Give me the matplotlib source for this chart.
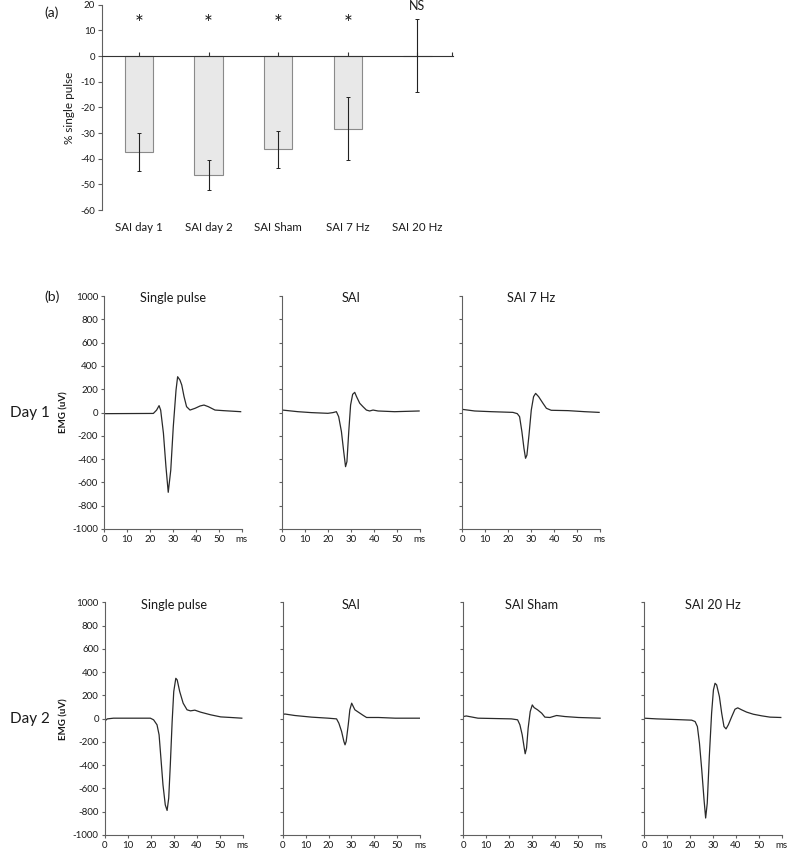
import matplotlib
matplotlib.use("Agg")
import matplotlib.pyplot as plt
import matplotlib.transforms as mtransforms

plt.rcParams['font.family'] = ['Lato', 'DejaVu Sans']
plt.rcParams['axes.unicode_minus'] = False

# ---------------- data: panel (a) ----------------
categories = ["SAI day 1", "SAI day 2", "SAI Sham", "SAI 7 Hz", "SAI 20 Hz"]
pct_means = [-37.4, -46.4, -36.3, -28.3, 0.2]
pct_errs = [7.5, 5.8, 7.2, 12.4, 14.2]
sig_labels = ["*", "*", "*", "*", "NS"]
a_yticks = [20, 10, 0, -10, -20, -30, -40, -50, -60]

# ---------------- data: panel (b) traces (ms, uV) ----------------
d1_single_t = [0, 21.4, 22.8, 23.9, 24.6, 25.8, 26.9, 27.9, 29.0, 30.1, 31.3, 32.0, 33.0,
               33.8, 34.8, 35.9, 37.4, 39.6, 41.8, 43.5, 45.4, 48.3, 51.9, 59.5]
d1_single_v = [-10, -8, 20, 59, 20, -178, -465, -685, -495, -122, 193, 307, 279,
               236, 136, 50, 21, 36, 56, 64, 50, 21, 16, 7]

d1_sai_t = [0, 6.8, 12.7, 19.9, 22.1, 23.6, 24.6, 25.8, 26.8, 27.6, 28.2, 29.0, 29.8, 30.7,
            31.6, 32.4, 33.8, 35.2, 36.7, 38.1, 39.6, 41.8, 49.0, 59.7]
d1_sai_v = [21, 7, -1, -7, -1, 7, -36, -164, -336, -465, -422, -164, 64, 156,
            173, 136, 79, 50, 21, 13, 21, 13, 7, 13]

d1_7hz_t = [0, 5.4, 12.7, 22.1, 24.0, 25.0, 26.0, 26.9, 27.6, 28.2, 29.1, 30.1, 31.1,
            32.0, 33.3, 35.2, 36.7, 38.8, 46.1, 53.4, 59.7]
d1_7hz_v = [27, 13, 7, 1, -10, -36, -164, -307, -393, -365, -193, 21, 136,
            164, 136, 79, 36, 19, 16, 7, 1]

d2_single_t = [0, 1.0, 3.7, 19.8, 21.2, 22.7, 23.6, 24.4, 25.3, 26.3, 27.1, 27.8, 28.5,
               29.3, 30.0, 30.9, 31.5, 32.6, 34.1, 35.8, 37.3, 39.2, 41.7, 46.1, 50.5, 54.9, 59.7]
d2_single_v = [-19, -2, 4, 4, -10, -53, -139, -340, -569, -741, -789, -683, -397,
               -25, 233, 347, 333, 233, 133, 76, 67, 73, 56, 33, 15, 10, 4]

d2_sai_t = [0, 0.9, 5.3, 12.6, 19.9, 23.5, 24.5, 25.7, 26.7, 27.2, 27.7, 28.6, 29.3, 30.1,
            30.8, 31.5, 33.0, 35.2, 36.6, 41.8, 49.1, 59.7]
d2_sai_v = [33, 40, 27, 13, 4, -2, -39, -110, -196, -225, -196, -53, 76, 133,
            104, 76, 56, 27, 10, 10, 4, 4]

d2_sham_t = [0, 1.3, 6.4, 21.0, 23.7, 24.7, 25.7, 26.6, 27.0, 27.6, 28.3, 29.2, 30.1, 30.9,
             32.4, 34.2, 35.6, 37.8, 40.7, 44.4, 50.2, 59.7]
d2_sham_v = [18, 23, 4, -2, -10, -53, -139, -253, -302, -253, -82, 61, 118, 95,
             76, 47, 13, 10, 27, 18, 10, 4]

d2_20hz_t = [0, 5.5, 14.3, 20.8, 22.3, 23.3, 24.2, 25.2, 26.2, 26.9, 27.6, 28.5, 29.5, 30.3,
             31.0, 31.7, 32.9, 33.9, 34.9, 35.8, 36.8, 38.3, 39.7, 40.9, 42.6, 44.8, 47.7,
             51.4, 55.0, 59.7]
d2_20hz_v = [4, -2, -8, -13, -25, -68, -211, -440, -697, -854, -726, -326, 47, 247,
             304, 290, 190, 47, -68, -88, -53, 18, 81, 93, 76, 56, 38, 24, 13, 10]

row1_titles = ["Single pulse", "SAI", "SAI 7 Hz"]
row1_traces = [(d1_single_t, d1_single_v), (d1_sai_t, d1_sai_v), (d1_7hz_t, d1_7hz_v)]
row2_titles = ["Single pulse", "SAI", "SAI Sham", "SAI 20 Hz"]
row2_traces = [(d2_single_t, d2_single_v), (d2_sai_t, d2_sai_v),
               (d2_sham_t, d2_sham_v), (d2_20hz_t, d2_20hz_v)]
emg_yticks = [1000, 800, 600, 400, 200, 0, -200, -400, -600, -800, -1000]
ms_ticks = [0, 10, 20, 30, 40, 50, 60]
ms_labels = ["0", "10", "20", "30", "40", "50", "ms"]

W, H = 792, 852
fig = plt.figure(figsize=(W / 100, H / 100), dpi=100)

def fx(px):
    return px / W

def fy(py):
    return 1 - py / H

spine_col = "#606060"
text_col = "#1a1a1a"
tick_fs = 7.0

# ---------------- panel (a) ----------------
axa = fig.add_axes([fx(102), fy(210), fx(453 - 102), (210 - 4.7) / H])
xs = list(range(len(categories)))
axa.bar(xs, pct_means, width=0.41, color="#e8e8e8", edgecolor="#8a8a8a", linewidth=0.8, zorder=2)
axa.errorbar(xs, pct_means, yerr=pct_errs, fmt="none", ecolor="#222222", elinewidth=0.8,
             capsize=1.5, capthick=0.7, zorder=3)
axa.set_xlim(-0.53, 4.51)
axa.set_ylim(-60, 20)
axa.spines['top'].set_visible(False)
axa.spines['right'].set_visible(False)
axa.spines['bottom'].set_position(('data', 0))
axa.spines['bottom'].set_color("#333333")
axa.spines['bottom'].set_linewidth(0.8)
axa.spines['left'].set_color(spine_col)
axa.spines['left'].set_linewidth(0.8)
axa.set_yticks(a_yticks)
axa.tick_params(axis='y', direction='out', length=3, width=0.8, color=spine_col,
                labelsize=tick_fs, labelcolor=text_col, pad=2)
axa.set_xticks(xs + [4.5])
axa.set_xticklabels([])
axa.tick_params(axis='x', direction='in', length=3, width=0.8, color="#333333")
trans_a = mtransforms.blended_transform_factory(axa.transData, axa.transAxes)
for i, c in enumerate(categories):
    axa.text(i, -0.083, c, transform=trans_a, ha='center', va='center', fontsize=8.3, color=text_col)
for i, s in enumerate(sig_labels):
    if s == "*":
        axa.text(i, 12.5, s, ha='center', va='center', fontsize=15, color=text_col)
    else:
        axa.text(i, 19.3, s, ha='center', va='center', fontsize=9, color=text_col)
axa.set_ylabel("% single pulse", fontsize=8.5, color=text_col, labelpad=4)
fig.text(fx(59), fy(13), "(a)", fontsize=10, ha='right', va='center', color=text_col)

# ---------------- panel (b) ----------------
fig.text(fx(60), fy(297), "(b)", fontsize=10, ha='right', va='center', color=text_col)
fig.text(fx(10), fy(413), "Day 1", fontsize=11, ha='left', va='center', color=text_col)
fig.text(fx(10), fy(719), "Day 2", fontsize=11, ha='left', va='center', color=text_col)

def emg_axes(left_px, top_px, bottom_px, title, t, v, first):
    ax = fig.add_axes([fx(left_px), fy(bottom_px), 137.5 / W, (bottom_px - top_px) / H])
    ax.plot(t, v, color="#2a2a2a", linewidth=0.9)
    ax.set_xlim(0, 60)
    ax.set_ylim(-1000, 1000)
    ax.spines['top'].set_visible(False)
    ax.spines['right'].set_visible(False)
    for s in ('left', 'bottom'):
        ax.spines[s].set_color(spine_col)
        ax.spines[s].set_linewidth(0.8)
    ax.set_yticks(emg_yticks)
    ax.set_xticks(ms_ticks)
    ax.set_xticklabels(ms_labels)
    ax.tick_params(axis='both', direction='out', length=2.5, width=0.8, color=spine_col,
                   labelsize=tick_fs, labelcolor=text_col, pad=2)
    if first:
        ax.set_ylabel("EMG (uV)", fontsize=7, color=text_col, labelpad=3, fontweight='bold')
    else:
        ax.set_yticklabels([])
    ax.text(0.5, 0.99, title, transform=ax.transAxes, ha='center', va='center',
            fontsize=9.2, color=text_col)
    return ax

row1_lefts = [104.3, 282.3, 462.3]
for i, (title, (t, v)) in enumerate(zip(row1_titles, row1_traces)):
    emg_axes(row1_lefts[i], 296, 529, title, t, v, i == 0)

row2_lefts = [105, 282.7, 463.3, 644]
for i, (title, (t, v)) in enumerate(zip(row2_titles, row2_traces)):
    emg_axes(row2_lefts[i], 602.3, 835, title, t, v, i == 0)

fig.savefig("out.png", dpi=100, facecolor="white")
